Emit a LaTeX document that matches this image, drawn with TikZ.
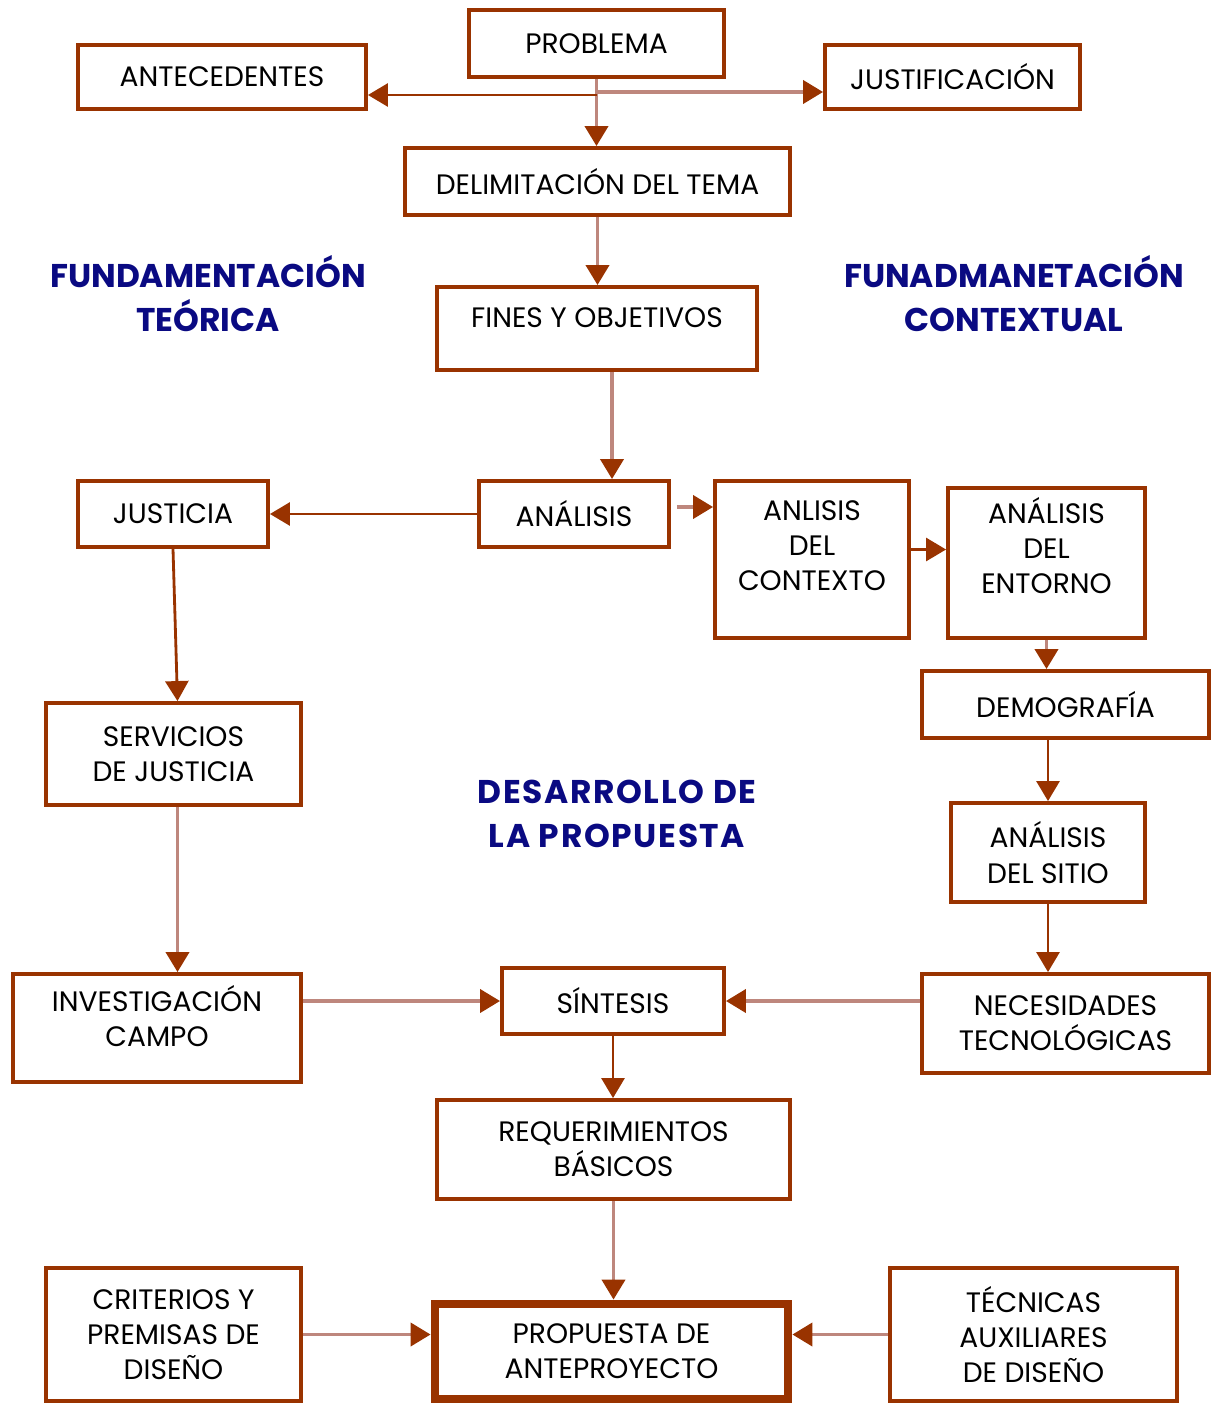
\documentclass[tikz,border=0pt]{standalone}
\usepackage{fontspec}
\setmainfont{Poppins}
\usetikzlibrary{positioning,arrows.meta}
\definecolor{rust}{RGB}{153,51,0}
\definecolor{rustlight}{RGB}{190,135,125}
\definecolor{titleblue}{RGB}{10,10,130}
% raise the text of a box a little, keeping its size
\newcommand{\liftup}[2]{\raisebox{#1}[\height][\depth]{\begin{tabular}{@{}c@{}}#2\end{tabular}}}
\tikzset{box/.style = {draw=rust, line width=2.2pt, align=center, inner sep=0pt,
                       font=\fontsize{16}{20}\selectfont},
         title/.style = {align=center, text=titleblue, font=\fontsize{18.7}{25}\selectfont\bfseries},
         darr/.style = {draw=rust, line width=1.6pt, -{Triangle[length=0.4cm,width=0.46cm,color=rust]}},
         larr/.style = {draw=rustlight, line width=2.2pt, -{Triangle[length=0.4cm,width=0.46cm,color=rust]}}}

\begin{document}
\begin{tikzpicture}
        \useasboundingbox (0,0) rectangle (24.36,-28.12);

        \node [box, minimum width=5.1cm, minimum height=1.34cm] (prob) at (11.93,-0.87) {PROBLEMA};
        \node [box, minimum width=5.76cm, minimum height=1.28cm] (antec) at (4.44,-1.54) {ANTECEDENTES};
        \node [box, minimum width=5.1cm, minimum height=1.28cm] (justif) at (19.05,-1.54) {JUSTIFICACIÓN};
        \node [box, minimum width=7.7cm, minimum height=1.34cm] (delim) at (11.95,-3.63) {DELIMITACIÓN DEL TEMA};
        \node [box, minimum width=6.4cm, minimum height=1.66cm] (fines) at (11.94,-6.57) {\liftup{0.16cm}{FINES Y OBJETIVOS}};

        \node [title] (fteor) at (4.16,-5.88) {FUNDAMENTACIÓN\\TEÓRICA};
        \node [title] (fcont) at (20.28,-5.88) {FUNADMANETACIÓN\\CONTEXTUAL};

        \node [box, minimum width=3.8cm, minimum height=1.32cm] (analisis) at (11.48,-10.28) {ANÁLISIS};
        \node [box, minimum width=3.8cm, minimum height=1.32cm] (justicia) at (3.46,-10.28) {JUSTICIA};
        \node [box, minimum width=3.88cm, minimum height=3.14cm] (contexto) at (16.24,-11.19) {\liftup{0.22cm}{ANLISIS\\DEL\\CONTEXTO}};
        \node [box, minimum width=3.94cm, minimum height=3.0cm] (entorno) at (20.93,-11.26) {\liftup{0.24cm}{ANÁLISIS\\DEL\\ENTORNO}};
        \node [box, minimum width=5.74cm, minimum height=1.34cm] (demog) at (21.31,-14.09) {DEMOGRAFÍA};
        \node [box, minimum width=5.1cm, minimum height=2.04cm] (servicios) at (3.47,-15.08) {SERVICIOS\\DE JUSTICIA};
        \node [box, minimum width=3.88cm, minimum height=1.98cm] (sitio) at (20.96,-17.05) {ANÁLISIS\\DEL SITIO};

        \node [title] (desarr) at (12.34,-16.28) {\addfontfeature{LetterSpace=5}DESARROLLO DE\\\addfontfeature{LetterSpace=5}LA PROPUESTA};

        \node [box, minimum width=5.76cm, minimum height=2.16cm] (invest) at (3.14,-20.56) {\liftup{0.14cm}{INVESTIGACIÓN\\CAMPO}};
        \node [box, minimum width=4.44cm, minimum height=1.32cm] (sintesis) at (12.26,-20.02) {SÍNTESIS};
        \node [box, minimum width=5.74cm, minimum height=1.98cm] (neces) at (21.31,-20.47) {NECESIDADES\\TECNOLÓGICAS};
        \node [box, minimum width=7.06cm, minimum height=1.98cm] (req) at (12.27,-22.99) {REQUERIMIENTOS\\BÁSICOS};
        \node [box, minimum width=5.1cm, minimum height=2.66cm] (crit) at (3.47,-26.69) {CRITERIOS Y\\PREMISAS DE\\DISEÑO};
        \node [box, line width=5pt, minimum width=7.06cm, minimum height=1.9cm] (prop) at (12.23,-27.03) {PROPUESTA DE\\ANTEPROYECTO};
        \node [box, minimum width=5.74cm, minimum height=2.66cm] (tecn) at (20.67,-26.69) {TÉCNICAS\\AUXILIARES\\DE DISEÑO};

        \coordinate (p1) at (11.93,-1.90);
        \coordinate (p2) at (11.93,-1.84);
        \coordinate (a1) at ([shift={(0.12,0.14)}]analisis.east);
        \coordinate (c1) at ([yshift=0.2cm]contexto.east);
        \coordinate (f1) at ([xshift=0.3cm]fines.south);

        \draw [larr] (prob.south) -- (prob.south |- delim.north);
        \draw [darr] (p1) -- (p1 -| antec.east);
        \draw [larr] (p2) -- (p2 -| justif.west);
        \draw [larr] (delim.south) -- (delim.south |- fines.north);
        \draw [larr] (f1) -- (f1 |- analisis.north);
        \draw [darr] (analisis.west) -- (justicia.east);
        \draw [larr] (a1) -- (a1 -| contexto.west);
        \draw [darr] (c1) -- (c1 -| entorno.west);
        \draw [larr] (entorno.south) -- (entorno.south |- demog.north);
        \draw [darr] (demog.south -| sitio.north) -- (sitio.north);
        \draw [darr] (sitio.south) -- (sitio.south |- neces.north);
        \draw [darr] (justicia.south) -- ([xshift=0.08cm]servicios.north);
        \draw [larr] ([xshift=0.08cm]servicios.south) -- ([xshift=0.08cm]servicios.south |- invest.north);
        \draw [larr] (invest.east |- sintesis.west) -- (sintesis.west);
        \draw [larr] (neces.west |- sintesis.east) -- (sintesis.east);
        \draw [darr] (sintesis.south) -- (sintesis.south |- req.north);
        \draw [larr] (req.south) -- (req.south |- prop.north);
        \draw [larr] (crit.east) -- (crit.east -| prop.west);
        \draw [larr] (tecn.west) -- (tecn.west -| prop.east);
    \end{tikzpicture}
\end{document}
